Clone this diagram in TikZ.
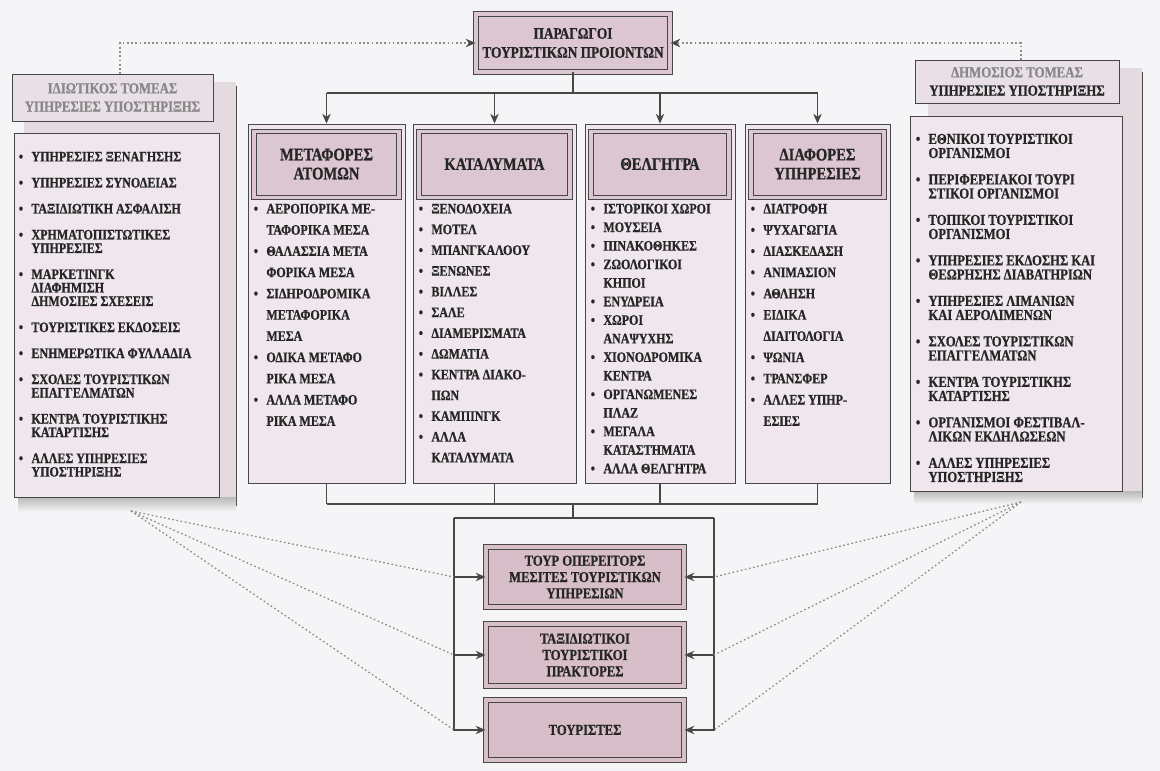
\documentclass[tikz,border=0pt]{standalone}
\usepackage{fontspec}
\setmainfont{Liberation Serif}[FakeStretch=0.83, BoldFeatures={FakeBold=0.8}]
\usetikzlibrary{arrows.meta,positioning,calc}

\definecolor{paper}{HTML}{F5F5F7}
\definecolor{ink}{HTML}{262626}
\definecolor{edge}{HTML}{474747}
\definecolor{hdrpink}{HTML}{DCC6D1}
\definecolor{botpink}{HTML}{D7BEC9}
\definecolor{listpink}{HTML}{EFE7ED}
\definecolor{sidepink}{HTML}{E4DBE1}
\definecolor{dotgray}{HTML}{8C8C8C}

\newlength\pxl
\setlength\pxl{0.025cm}
\newcommand\blt{\makebox[9pt][l]{\textbullet}}
\newcommand\indt{\hspace*{9pt}}

\tikzset{
  sz/.style 2 args={minimum width=#1\pxl, minimum height=#2\pxl, inner sep=0pt},
  dblbox/.style={draw=edge, line width=0.7pt, double=#1, double distance=2.2pt, fill=#1,
    text=ink, align=center, font=\bfseries\fontsize{12.5}{13.5}\selectfont},
  panel/.style={draw=edge, line width=0.6pt, fill=listpink},
  sidehdr/.style={draw=edge, line width=0.6pt, fill=sidepink!60!listpink, text=ink, align=center,
    font=\bfseries\fontsize{11}{13}\selectfont},
  items/.style={anchor=north west, inner sep=0pt, align=left, text=ink,
    font=\bfseries\fontsize{10.3}{#1}\selectfont},
  conn/.style={draw=edge, line width=0.8pt},
  arr/.style={conn, -{Stealth[length=7pt,width=6pt]}},
  dots/.style={draw=dotgray, line width=0.9pt, dash pattern=on 1.2pt off 1.8pt},
}

\begin{document}
\begin{tikzpicture}[x=0.025cm, y=-0.025cm]
\fill[paper] (0,0) rectangle (1160,771);
\useasboundingbox (0,0) rectangle (1160,771);

\node[dblbox=hdrpink, sz={194}{58}, font=\bfseries\fontsize{11.4}{13.5}\selectfont] (prod) at (573,43) {ΠΑΡΑΓΩΓΟΙ\\ΤΟΥΡΙΣΤΙΚΩΝ ΠΡΟΙΟΝΤΩΝ};

\fill[sidepink] (24,82) rectangle (236,508);
\draw[conn, line width=0.6pt] (236,86) -- (236,506);
\shade[top color=gray!55, bottom color=paper] (18,497) rectangle (236,512);
\node[sidehdr, sz={201}{47}] (privhdr) at (112.5,97.5) {\textcolor{ink!55}{ΙΔΙΩΤΙΚΟΣ ΤΟΜΕΑΣ}\\\textcolor{ink!55}{ΥΠΗΡΕΣΙΕΣ ΥΠΟΣΤΗΡΙΞΗΣ}};
\node[panel, sz={205}{364}] (privlist) at (116.5,315) {};
\node[items=9.6pt] (privitems) at ([shift={(5,19)}]privlist.north west) {\blt ΥΠΗΡΕΣΙΕΣ ΞΕΝΑΓΗΣΗΣ\\[8.9pt]
\blt ΥΠΗΡΕΣΙΕΣ ΣΥΝΟΔΕΙΑΣ\\[8.9pt]
\blt ΤΑΞΙΔΙΩΤΙΚΗ ΑΣΦΑΛΙΣΗ\\[8.9pt]
\blt ΧΡΗΜΑΤΟΠΙΣΤΩΤΙΚΕΣ\\ \indt ΥΠΗΡΕΣΙΕΣ\\[8.9pt]
\blt ΜΑΡΚΕΤΙΝΓΚ\\ \indt ΔΙΑΦΗΜΙΣΗ\\ \indt ΔΗΜΟΣΙΕΣ ΣΧΕΣΕΙΣ\\[8.9pt]
\blt ΤΟΥΡΙΣΤΙΚΕΣ ΕΚΔΟΣΕΙΣ\\[8.9pt]
\blt ΕΝΗΜΕΡΩΤΙΚΑ ΦΥΛΛΑΔΙΑ\\[8.9pt]
\blt ΣΧΟΛΕΣ ΤΟΥΡΙΣΤΙΚΩΝ\\ \indt ΕΠΑΓΓΕΛΜΑΤΩΝ\\[8.9pt]
\blt ΚΕΝΤΡΑ ΤΟΥΡΙΣΤΙΚΗΣ\\ \indt ΚΑΤΑΡΤΙΣΗΣ\\[8.9pt]
\blt ΑΛΛΕΣ ΥΠΗΡΕΣΙΕΣ\\ \indt ΥΠΟΣΤΗΡΙΞΗΣ};

\fill[sidepink] (928,68) rectangle (1142,500);
\draw[conn, line width=0.6pt] (1142,72) -- (1142,498);
\shade[top color=gray!55, bottom color=paper] (914,491) rectangle (1142,504);
\node[sidehdr, sz={204}{43}] (pubhdr) at (1017,81.5) {\textcolor{ink!55}{ΔΗΜΟΣΙΟΣ ΤΟΜΕΑΣ}\\ΥΠΗΡΕΣΙΕΣ ΥΠΟΣΤΗΡΙΞΗΣ};
\node[panel, sz={212}{375}] (publist) at (1016,303.5) {};
\node[items=10pt, font=\bfseries\fontsize{10.8}{10}\selectfont] (pubitems) at ([shift={(6,18)}]publist.north west) {\blt ΕΘΝΙΚΟΙ ΤΟΥΡΙΣΤΙΚΟΙ\\ \indt ΟΡΓΑΝΙΣΜΟΙ\\[8.8pt]
\blt ΠΕΡΙΦΕΡΕΙΑΚΟΙ ΤΟΥΡΙ\\ \indt ΣΤΙΚΟΙ ΟΡΓΑΝΙΣΜΟΙ\\[8.8pt]
\blt ΤΟΠΙΚΟΙ ΤΟΥΡΙΣΤΙΚΟΙ\\ \indt ΟΡΓΑΝΙΣΜΟΙ\\[8.8pt]
\blt ΥΠΗΡΕΣΙΕΣ ΕΚΔΟΣΗΣ ΚΑΙ\\ \indt ΘΕΩΡΗΣΗΣ ΔΙΑΒΑΤΗΡΙΩΝ\\[8.8pt]
\blt ΥΠΗΡΕΣΙΕΣ ΛΙΜΑΝΙΩΝ\\ \indt ΚΑΙ ΑΕΡΟΛΙΜΕΝΩΝ\\[8.8pt]
\blt ΣΧΟΛΕΣ ΤΟΥΡΙΣΤΙΚΩΝ\\ \indt ΕΠΑΓΓΕΛΜΑΤΩΝ\\[8.8pt]
\blt ΚΕΝΤΡΑ ΤΟΥΡΙΣΤΙΚΗΣ\\ \indt ΚΑΤΑΡΤΙΣΗΣ\\[8.8pt]
\blt ΟΡΓΑΝΙΣΜΟΙ ΦΕΣΤΙΒΑΛ-\\ \indt ΛΙΚΩΝ ΕΚΔΗΛΩΣΕΩΝ\\[8.8pt]
\blt ΑΛΛΕΣ ΥΠΗΡΕΣΙΕΣ\\ \indt ΥΠΟΣΤΗΡΙΞΗΣ};

\node[panel, sz={157}{359}] (col1) at (326.5,303.5) {};
\node[dblbox=hdrpink, sz={145}{66}, below=7\pxl of col1.north] (hdr1) {ΜΕΤΑΦΟΡΕΣ\\ΑΤΟΜΩΝ};
\node[items=15.1pt] (list1) at ([shift={(0,6)}]hdr1.south west) {\blt ΑΕΡΟΠΟΡΙΚΑ ΜΕ-\\ \indt ΤΑΦΟΡΙΚΑ ΜΕΣΑ\\ \blt ΘΑΛΑΣΣΙΑ ΜΕΤΑ\\ \indt ΦΟΡΙΚΑ ΜΕΣΑ\\ \blt ΣΙΔΗΡΟΔΡΟΜΙΚΑ\\ \indt ΜΕΤΑΦΟΡΙΚΑ\\ \indt ΜΕΣΑ\\ \blt ΟΔΙΚΑ ΜΕΤΑΦΟ\\ \indt ΡΙΚΑ ΜΕΣΑ\\ \blt ΑΛΛΑ ΜΕΤΑΦΟ\\ \indt ΡΙΚΑ ΜΕΣΑ};

\node[panel, sz={163}{359}] (col2) at (494.5,303.5) {};
\node[dblbox=hdrpink, sz={151}{66}, below=7\pxl of col2.north] (hdr2) {ΚΑΤΑΛΥΜΑΤΑ};
\node[items=14.75pt] (list2) at ([shift={(0,6)}]hdr2.south west) {\blt ΞΕΝΟΔΟΧΕΙΑ\\ \blt ΜΟΤΕΛ\\ \blt ΜΠΑΝΓΚΑΛΟΟΥ\\ \blt ΞΕΝΩΝΕΣ\\ \blt ΒΙΛΛΕΣ\\ \blt ΣΑΛΕ\\ \blt ΔΙΑΜΕΡΙΣΜΑΤΑ\\ \blt ΔΩΜΑΤΙΑ\\ \blt ΚΕΝΤΡΑ ΔΙΑΚΟ-\\ \indt ΠΩΝ\\ \blt ΚΑΜΠΙΝΓΚ\\ \blt ΑΛΛΑ\\ \indt ΚΑΤΑΛΥΜΑΤΑ};

\node[panel, sz={150}{359}] (col3) at (660,303.5) {};
\node[dblbox=hdrpink, sz={138}{66}, below=7\pxl of col3.north] (hdr3) {ΘΕΛΓΗΤΡΑ};
\node[items=13.2pt] (list3) at ([shift={(0,6)}]hdr3.south west) {\blt ΙΣΤΟΡΙΚΟΙ ΧΩΡΟΙ\\ \blt ΜΟΥΣΕΙΑ\\ \blt ΠΙΝΑΚΟΘΗΚΕΣ\\ \blt ΖΩΟΛΟΓΙΚΟΙ\\ \indt ΚΗΠΟΙ\\ \blt ΕΝΥΔΡΕΙΑ\\ \blt ΧΩΡΟΙ\\ \indt ΑΝΑΨΥΧΗΣ\\ \blt ΧΙΟΝΟΔΡΟΜΙΚΑ\\ \indt ΚΕΝΤΡΑ\\ \blt ΟΡΓΑΝΩΜΕΝΕΣ\\ \indt ΠΛΑΖ\\ \blt ΜΕΓΑΛΑ\\ \indt ΚΑΤΑΣΤΗΜΑΤΑ\\ \blt ΑΛΛΑ ΘΕΛΓΗΤΡΑ};

\node[panel, sz={145}{359}] (col4) at (817.5,303.5) {};
\node[dblbox=hdrpink, sz={133}{66}, below=7\pxl of col4.north] (hdr4) {ΔΙΑΦΟΡΕΣ\\ΥΠΗΡΕΣΙΕΣ};
\node[items=15.1pt] (list4) at ([shift={(0,6)}]hdr4.south west) {\blt ΔΙΑΤΡΟΦΗ\\ \blt ΨΥΧΑΓΩΓΙΑ\\ \blt ΔΙΑΣΚΕΔΑΣΗ\\ \blt ΑΝΙΜΑΣΙΟΝ\\ \blt ΑΘΛΗΣΗ\\ \blt ΕΙΔΙΚΑ\\ \indt ΔΙΑΙΤΟΛΟΓΙΑ\\ \blt ΨΩΝΙΑ\\ \blt ΤΡΑΝΣΦΕΡ\\ \blt ΑΛΛΕΣ ΥΠΗΡ-\\ \indt ΕΣΙΕΣ};

\coordinate (bustop) at (573,93);
\draw[conn] (prod.south) -- (bustop);
\draw[conn] (col1.north |- bustop) -- (col4.north |- bustop);
\foreach \c in {col1,col2,col3,col4}
  \draw[arr] (\c.north |- bustop) -- (\c.north);

\coordinate (busbot) at (573,504);
\foreach \c in {col1,col2,col3,col4}
  \draw[conn] (\c.south) -- (\c.south |- busbot);
\draw[conn] (col1.south |- busbot) -- (col4.south |- busbot);
\coordinate (frtl) at (454,518);
\coordinate (frtr) at (714,518);
\draw[conn] (busbot) -- (busbot |- frtl);
\draw[conn] (frtl) -- (frtr);

\node[dblbox=botpink, sz={198}{60}, font=\bfseries\fontsize{10.8}{11.6}\selectfont] (oper) at (585,577) {ΤΟΥΡ ΟΠΕΡΕΙΤΟΡΣ\\ΜΕΣΙΤΕΣ ΤΟΥΡΙΣΤΙΚΩΝ\\ΥΠΗΡΕΣΙΩΝ};
\node[dblbox=botpink, sz={198}{62}, font=\bfseries\fontsize{10.8}{11.6}\selectfont, below=16\pxl of oper] (agent) {ΤΑΞΙΔΙΩΤΙΚΟΙ\\ΤΟΥΡΙΣΤΙΚΟΙ\\ΠΡΑΚΤΟΡΕΣ};
\node[dblbox=botpink, sz={198}{60}, font=\bfseries\fontsize{10.8}{11.6}\selectfont, below=13\pxl of agent] (tourist) {ΤΟΥΡΙΣΤΕΣ};

\draw[arr] (frtl) |- (tourist.west);
\draw[arr] (frtr) |- (tourist.east);
\foreach \b in {oper,agent} {
  \draw[arr] (frtl |- \b.west) -- (\b.west);
  \draw[arr] (frtr |- \b.east) -- (\b.east);
}

\coordinate (privfoot) at (131,511);
\coordinate (pubfoot) at (1021,502);
\foreach \b in {oper,agent,tourist} {
  \draw[dots] (privfoot) -- (frtl |- \b.west);
  \draw[dots] (pubfoot) -- (frtr |- \b.east);
}

\coordinate (privtop) at (120,74);
\coordinate (pubtop) at (1021,60);
\draw[dots, -{Stealth[length=7pt,width=6pt,color=edge]}] (privtop) |- (prod.west);
\draw[dots, -{Stealth[length=7pt,width=6pt,color=edge]}] (pubtop) |- (prod.east);
\end{tikzpicture}
\end{document}
